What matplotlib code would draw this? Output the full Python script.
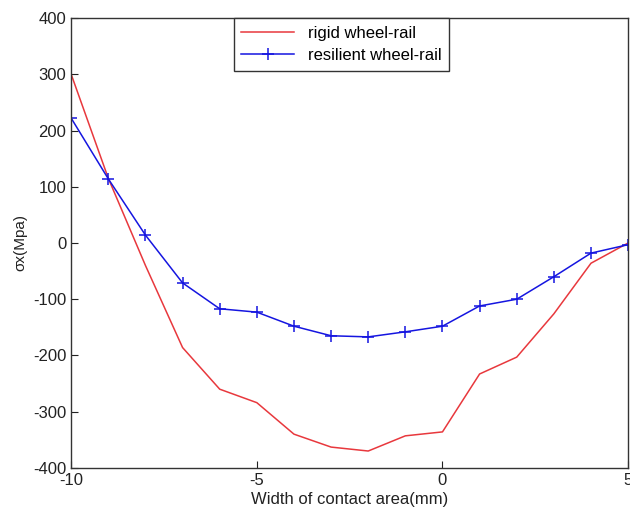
import matplotlib
matplotlib.use('Agg')
import matplotlib.pyplot as plt

plt.rcParams['font.family'] = ['Liberation Sans', 'DejaVu Sans']
plt.rcParams['axes.unicode_minus'] = False

# contact width positions (mm)
x = [-10, -9, -8, -7, -6, -5, -4, -3, -2, -1, 0, 1, 2, 3, 4, 5]
# sigma x (MPa)
rigid = [300, 115, -40, -186, -260, -284, -340, -363, -370, -343, -336, -233, -203, -126, -36, 0]
resilient = [222, 114, 14, -71, -117, -123, -148, -165, -167, -158, -148, -112, -100, -60, -18, -3]

fig = plt.figure(figsize=(6.3, 5.17), dpi=100)
ax = fig.add_axes([0.113, 0.095, 0.884, 0.870])

ax.plot(x, rigid, color='#e8383d', lw=1.1, label='rigid wheel-rail')
ax.plot(x, resilient, color='#1515e0', lw=1.1, marker='+', markersize=9,
        markeredgewidth=1.1, label='resilient wheel-rail')

ax.set_xlim(-10, 5)
ax.set_ylim(-400, 400)
ax.set_xticks([-10, -5, 0, 5])
ax.set_yticks(range(-400, 401, 100))
ax.tick_params(direction='in', length=5, labelsize=12, colors='#222222', top=False, right=False)
for s in ax.spines.values():
    s.set_color('#333333')
    s.set_linewidth(1.0)

ax.set_xlabel('Width of contact area(mm)', fontsize=12, color='#222222', labelpad=3)
ax.set_ylabel('σx(Mpa)', fontsize=11, color='#222222')

leg = ax.legend(loc='upper center', bbox_to_anchor=(0.485, 1.0), borderaxespad=0,
                fontsize=12, fancybox=False, framealpha=1, edgecolor='#333333',
                handlelength=3.2, borderpad=0.45, labelspacing=0.45)
leg.get_frame().set_linewidth(1.0)

fig.savefig('out.png', dpi=100)
